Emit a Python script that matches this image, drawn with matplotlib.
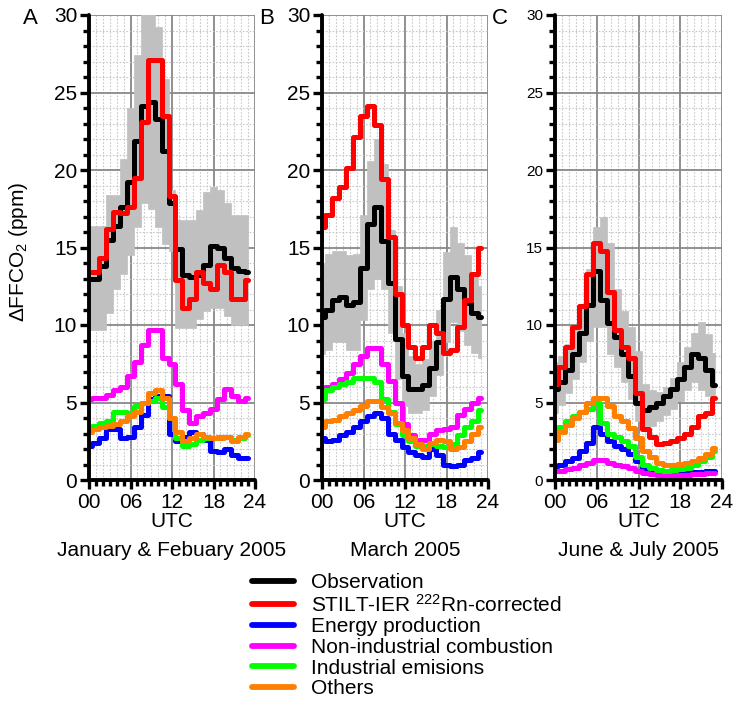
import numpy as np
from matplotlib import pyplot as plt
from matplotlib.ticker import MultipleLocator

plt.rcParams['font.family'] = ['Liberation Sans', 'DejaVu Sans']
plt.rcParams['mathtext.default'] = 'regular'

hours = np.arange(24)

# January & February 2005
obs_a = [13.0, 13.0, 13.8, 15.5, 16.4, 17.6, 19.2, 21.9, 24.1, 24.4, 23.3, 21.2,
         17.9, 14.9, 13.2, 13.1, 13.2, 13.9, 15.1, 15.0, 14.3, 13.7, 13.5, 13.4]
obs_a_hi = [16.4, 16.4, 16.4, 18.4, 18.4, 20.7, 24.0, 27.4, 31.5, 31.5, 29.2, 25.9,
            18.7, 16.8, 16.8, 16.8, 17.4, 18.6, 18.9, 18.7, 17.9, 17.1, 17.1, 17.1]
obs_a_lo = [9.7, 9.7, 9.7, 10.8, 12.3, 13.3, 14.5, 16.3, 17.9, 17.5, 16.3, 15.2,
            14.8, 9.8, 9.8, 9.8, 10.4, 10.9, 11.1, 11.1, 10.6, 10.0, 10.0, 10.0]
stilt_a = [13.4, 13.4, 14.3, 16.2, 17.3, 17.2, 17.6, 19.5, 23.1, 27.1, 27.1, 23.5,
           18.3, 12.9, 11.1, 11.7, 13.4, 12.7, 12.3, 13.9, 13.4, 11.7, 11.7, 12.9]
energy_a = [2.2, 2.4, 2.7, 3.3, 3.3, 2.7, 2.8, 3.4, 4.2, 5.2, 5.4, 5.4,
            3.0, 2.5, 2.8, 3.1, 3.0, 2.6, 1.9, 1.8, 2.0, 1.6, 1.4, 1.4]
nonind_a = [5.2, 5.3, 5.3, 5.5, 5.8, 6.0, 6.7, 7.6, 8.7, 9.7, 9.7, 7.9,
            7.5, 6.2, 4.5, 3.7, 4.1, 4.3, 4.6, 5.2, 5.9, 5.4, 5.1, 5.3]
indus_a = [3.4, 3.5, 3.7, 3.8, 4.4, 4.4, 4.3, 4.8, 5.0, 5.1, 5.3, 4.7,
           4.0, 2.7, 2.2, 2.3, 2.6, 2.7, 2.7, 2.8, 2.8, 2.6, 2.7, 2.9]
others_a = [3.1, 3.3, 3.4, 3.5, 3.6, 3.8, 4.1, 4.4, 5.0, 5.6, 5.8, 5.3,
            4.0, 3.1, 2.5, 2.7, 3.0, 2.8, 2.7, 2.7, 2.8, 2.5, 2.8, 3.0]

# March 2005
obs_b = [10.5, 11.0, 11.6, 11.8, 11.3, 11.5, 13.7, 16.5, 17.6, 15.4, 12.7, 9.1,
         6.7, 5.9, 5.9, 6.1, 7.2, 8.9, 11.7, 13.1, 12.3, 11.4, 10.8, 10.5]
obs_b_hi = [14.0, 14.6, 14.8, 14.8, 14.5, 14.6, 17.1, 20.6, 22.0, 20.4, 16.1, 12.5,
            9.5, 8.0, 7.5, 7.8, 9.0, 11.0, 14.7, 16.3, 15.3, 14.5, 13.3, 12.5]
obs_b_lo = [8.1, 8.4, 8.9, 8.9, 8.4, 8.4, 10.3, 12.3, 13.0, 12.3, 9.5, 6.5,
            4.8, 4.3, 4.3, 4.5, 5.4, 6.8, 8.9, 10.2, 9.6, 8.7, 8.2, 7.9]
stilt_b = [16.3, 17.1, 18.2, 18.9, 20.1, 22.1, 23.5, 24.1, 22.9, 19.4, 15.7, 12.0,
           10.0, 8.6, 7.9, 8.6, 10.0, 9.5, 8.2, 8.4, 9.9, 11.6, 13.3, 15.0]
energy_b = [2.7, 2.5, 2.6, 2.9, 3.1, 3.4, 3.8, 4.1, 4.3, 4.0, 3.0, 2.6,
            2.1, 1.8, 1.6, 1.5, 2.0, 1.6, 1.0, 0.9, 1.0, 1.3, 1.4, 1.8]
nonind_b = [5.5, 6.0, 6.2, 6.5, 6.9, 7.5, 8.0, 8.5, 8.5, 7.5, 6.4, 5.0,
            3.6, 2.9, 2.6, 2.6, 3.0, 3.2, 3.3, 3.4, 4.2, 4.6, 5.0, 5.3]
indus_b = [5.2, 5.8, 6.0, 6.2, 6.3, 6.6, 6.6, 6.6, 6.3, 5.2, 4.4, 3.6,
           2.9, 2.5, 2.2, 2.2, 2.3, 2.2, 2.1, 2.3, 2.9, 3.4, 3.8, 4.5]
others_b = [3.4, 3.8, 3.9, 4.1, 4.3, 4.5, 4.8, 5.1, 5.1, 4.7, 4.3, 3.7,
            3.2, 2.7, 2.3, 2.0, 2.4, 2.6, 2.5, 2.0, 2.1, 2.5, 3.0, 3.4]

# June & July 2005
obs_c = [5.9, 6.3, 7.1, 8.1, 9.5, 11.3, 13.5, 11.6, 10.1, 9.2, 8.1, 6.7,
         5.0, 4.5, 4.7, 5.0, 5.4, 5.9, 6.5, 7.3, 8.1, 7.9, 7.1, 6.1]
obs_c_hi = [7.6, 8.0, 8.8, 9.8, 11.3, 13.6, 16.3, 17.0, 15.3, 12.3, 10.9, 9.9,
            8.3, 6.2, 5.8, 5.7, 6.0, 6.6, 7.6, 8.6, 9.5, 10.2, 9.4, 8.2]
obs_c_lo = [4.3, 4.85, 5.6, 6.5, 7.6, 9.0, 9.9, 9.9, 8.1, 7.3, 6.3, 5.2,
            3.8, 3.4, 3.5, 3.8, 4.2, 4.6, 5.1, 5.8, 6.3, 5.8, 5.4, 5.4]
stilt_c = [6.2, 7.3, 8.6, 9.9, 11.2, 13.3, 15.3, 14.8, 12.1, 9.7, 8.6, 7.85,
           5.6, 3.3, 2.8, 2.3, 2.4, 2.5, 2.7, 3.0, 3.45, 4.1, 4.3, 5.3]
energy_c = [0.9, 1.0, 1.2, 1.4, 1.85, 2.4, 3.4, 3.0, 2.5, 2.2, 2.0, 1.7,
            1.2, 0.8, 0.55, 0.5, 0.45, 0.45, 0.45, 0.45, 0.5, 0.5, 0.55, 0.6]
nonind_c = [0.55, 0.6, 0.7, 0.8, 0.95, 1.1, 1.3, 1.3, 1.1, 1.0, 0.9, 0.8,
            0.6, 0.45, 0.4, 0.35, 0.35, 0.35, 0.35, 0.35, 0.4, 0.4, 0.45, 0.45]
indus_c = [3.0, 3.4, 3.8, 4.1, 4.4, 4.6, 4.95, 3.7, 3.0, 2.8, 2.5, 2.2,
           1.5, 1.0, 0.8, 0.65, 0.6, 0.65, 0.7, 0.8, 1.0, 1.2, 1.5, 1.9]
others_c = [2.6, 3.1, 3.55, 4.0, 4.4, 4.95, 5.3, 5.3, 4.75, 4.1, 3.8, 3.35,
            2.7, 1.85, 1.5, 1.1, 1.0, 1.0, 1.05, 1.1, 1.25, 1.4, 1.7, 2.05]

labels = ['Observation', 'STILT-IER $^{222}$Rn-corrected', 'Energy production',
          'Non-industrial combustion', 'Industrial emisions', 'Others']
colors = ['black', '#ff0000', '#0000ff', '#ff00ff', '#00ff00', '#ff8000']
periods = ['January & Febuary 2005', 'March 2005', 'June & July 2005']
letters = ['A', 'B', 'C']

panels = [
    (obs_a, obs_a_lo, obs_a_hi, stilt_a, energy_a, nonind_a, indus_a, others_a),
    (obs_b, obs_b_lo, obs_b_hi, stilt_b, energy_b, nonind_b, indus_b, others_b),
    (obs_c, obs_c_lo, obs_c_hi, stilt_c, energy_c, nonind_c, indus_c, others_c),
]

W, H = 739, 704
fig = plt.figure(figsize=(W / 100, H / 100), dpi=100)
lefts = [89, 322, 555]
widths = [166, 166, 167]
fs = 15

for i, (obs, lo, hi, stilt, energy, nonind, indus, others) in enumerate(panels):
    ax = fig.add_axes([lefts[i] / W, 1 - 480 / H, widths[i] / W, 465 / H])
    ax.set_axisbelow(True)
    ax.fill_between(hours, lo, hi, step='mid', facecolor='#c0c0c0',
                    edgecolor='#c0c0c0', lw=0.5, zorder=2)
    kw = dict(drawstyle='steps-mid', lw=3.6, solid_joinstyle='round',
              solid_capstyle='round', zorder=3)
    ax.plot(hours, energy, color=colors[2], **kw)
    ax.plot(hours, nonind, color=colors[3], **kw)
    ax.plot(hours, indus, color=colors[4], **kw)
    ax.plot(hours, others, color=colors[5], **kw)
    ax.plot(hours, obs, color=colors[0], **kw)
    ax.plot(hours, stilt, color=colors[1], **kw)

    ax.set_xlim(0, 24)
    ax.set_ylim(0, 30)
    ax.set_xticks([0, 6, 12, 18, 24])
    ax.set_xticklabels(['00', '06', '12', '18', '24'])
    ax.xaxis.set_minor_locator(MultipleLocator(1))
    ax.yaxis.set_major_locator(MultipleLocator(5))
    ax.yaxis.set_minor_locator(MultipleLocator(1))
    ax.grid(which='minor', color='#c8c8c8', lw=0.8, ls=(0, (1.5, 1.5)), zorder=0)
    ax.grid(which='major', color='#888888', lw=1.3, ls='-', zorder=0)
    for s in ['top', 'right']:
        ax.spines[s].set_visible(False)
    for s in ['left', 'bottom']:
        ax.spines[s].set_linewidth(2.8)
        ax.spines[s].set_capstyle('round')
        ax.spines[s].set_zorder(4)
    ax.tick_params(which='major', length=6.5, width=2.4, direction='out', pad=2)
    ax.tick_params(which='minor', length=4, width=2.4, direction='out')
    ysize = 11 if i == 2 else fs
    ax.tick_params(axis='y', labelsize=ysize)
    ax.tick_params(axis='x', labelsize=fs, pad=3)
    ax.set_xlabel('UTC', fontsize=fs, labelpad=0)
    cx = (lefts[i] + widths[i] / 2) / W
    fig.text(cx, 1 - 550 / H, periods[i], fontsize=fs, ha='center', va='center')
    if i == 0:
        ax.set_ylabel('$\\Delta$FFCO$_2$ (ppm)', fontsize=fs)
        ax.yaxis.set_label_coords(-0.355, 0.49)

for x, letter in zip([30, 267, 500], letters):
    fig.text(x / W, 1 - 18 / H, letter, fontsize=16, ha='center', va='center')

handles = [plt.Line2D([], [], color=c, lw=4.2, solid_capstyle='round') for c in colors]
fig.legend(handles, labels, loc='upper left', bbox_to_anchor=(252 / W, 1 - 573 / H),
           frameon=False, fontsize=fs, handlelength=2.0, handletextpad=0.85,
           labelspacing=0.08, borderpad=0, borderaxespad=0)

fig.savefig('out.png', dpi=100)
